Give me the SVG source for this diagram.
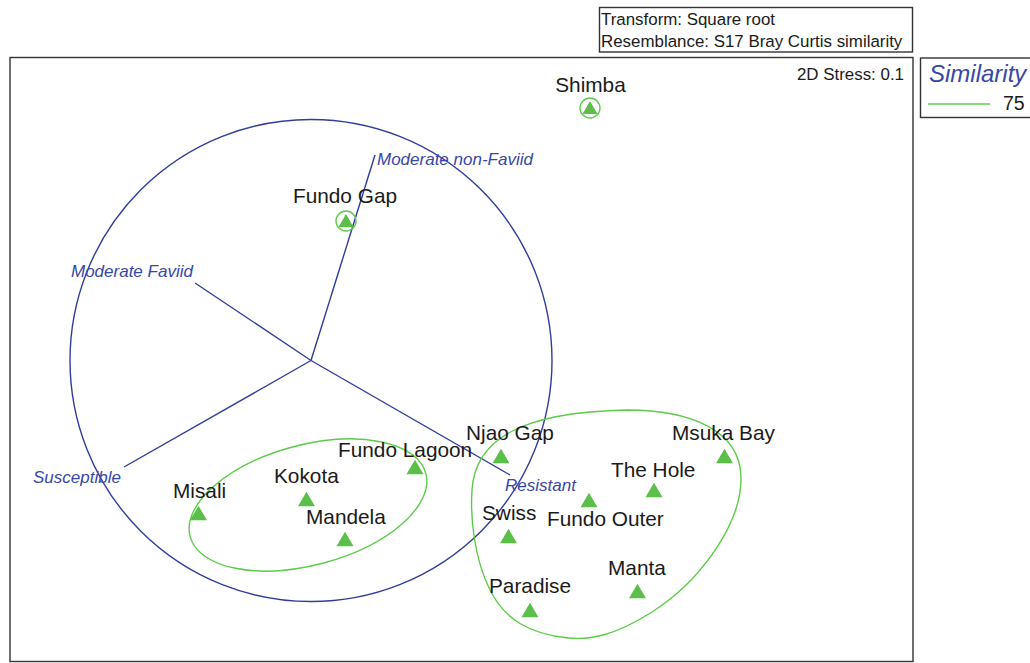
<svg xmlns="http://www.w3.org/2000/svg" xmlns:xlink="http://www.w3.org/1999/xlink" width="1030" height="663" viewBox="0 0 1030 663">
<style>
.frame{fill:none;stroke:#333;stroke-width:1.4}
.lbl{font-family:"Liberation Sans",Arial,sans-serif;font-size:20.8px;fill:#1a1a1a}
.info{font-family:"Liberation Sans",Arial,sans-serif;font-size:16.9px;fill:#1a1a1a}
.vec{stroke:#2f3d9c;stroke-width:1.4;fill:none}
.vlbl{font-family:"Liberation Sans",Arial,sans-serif;font-size:17px;font-style:italic;fill:#3747a8}
.clus{fill:none;stroke:#5ccc48;stroke-width:1.4}
.tri{fill:#5cbf4a}
</style>
<defs>
<path id="tri" d="M0,-7.2 L8.5,7.2 L-8.5,7.2 Z"/>
<path id="tris" d="M0,-7 L7.5,6 L-7.5,6 Z"/>
</defs>
<rect class="frame" x="10" y="57.5" width="903" height="604"/>
<g id="header">
<rect class="frame" x="599.5" y="7.5" width="313" height="44.5"/>
<text class="info" x="601" y="25">Transform: Square root</text>
<text class="info" x="601" y="47">Resemblance: S17 Bray Curtis similarity</text>
</g>
<text class="info" x="904" y="80" text-anchor="end">2D Stress: 0.1</text>
<g id="legend">
<rect class="frame" x="920.5" y="58" width="120" height="59.5"/>
<text x="929" y="82" font-family="Liberation Sans, Arial, sans-serif" font-size="24" font-style="italic" fill="#3747a8">Similarity</text>
<line class="clus" x1="928" y1="104" x2="990" y2="104"/>
<text x="1003" y="110" font-family="Liberation Sans, Arial, sans-serif" font-size="19.5" fill="#1a1a1a">75</text>
</g>
<g id="connectors">
<circle class="vec" cx="311" cy="360.5" r="241"/>
<line class="vec" x1="311" y1="360.5" x2="375" y2="155"/>
<line class="vec" x1="311" y1="360.5" x2="195" y2="283"/>
<line class="vec" x1="311" y1="360.5" x2="124" y2="467"/>
<line class="vec" x1="311" y1="360.5" x2="510" y2="475"/>
<ellipse class="clus" cx="308" cy="505" rx="122" ry="60" transform="rotate(-15 308 505)"/>
<path class="clus" d="M627 410 C690 410 740 430 741 477 C742 522 702 580 652 612 C614 636 590 640 568 638 C530 634 505 620 490 590 C475 560 470 520 472 490 C475 440 520 412 627 410 Z"/>
</g>
<g id="vectors-labels">
<text class="vlbl" x="377" y="165">Moderate non-Faviid</text>
<text class="vlbl" x="71" y="277">Moderate Faviid</text>
<text class="vlbl" x="33" y="483">Susceptible</text>
<text class="vlbl" x="505" y="491">Resistant</text>
</g>
<g id="shimba"><circle class="clus" cx="590" cy="108" r="10"/><use href="#tris" xlink:href="#tris" x="590" y="108" class="tri"/><text class="lbl" x="590.5" y="92" text-anchor="middle">Shimba</text></g>
<g id="fundo-gap"><circle class="clus" cx="346" cy="221" r="10"/><use href="#tris" xlink:href="#tris" x="346" y="221" class="tri"/><text class="lbl" x="345" y="203" text-anchor="middle">Fundo Gap</text></g>
<g id="misali"><use href="#tri" xlink:href="#tri" x="198.5" y="513" class="tri"/><text class="lbl" x="173" y="498">Misali</text></g>
<g id="kokota"><use href="#tri" xlink:href="#tri" x="306.5" y="499" class="tri"/><text class="lbl" x="274" y="483">Kokota</text></g>
<g id="mandela"><use href="#tri" xlink:href="#tri" x="345" y="539" class="tri"/><text class="lbl" x="306" y="524">Mandela</text></g>
<g id="fundo-lagoon"><use href="#tri" xlink:href="#tri" x="415" y="467" class="tri"/><text class="lbl" x="338" y="457">Fundo Lagoon</text></g>
<g id="njao-gap"><use href="#tri" xlink:href="#tri" x="501" y="456" class="tri"/><text class="lbl" x="466" y="440">Njao Gap</text></g>
<g id="msuka-bay"><use href="#tri" xlink:href="#tri" x="724.5" y="456" class="tri"/><text class="lbl" x="672" y="440">Msuka Bay</text></g>
<g id="the-hole"><use href="#tri" xlink:href="#tri" x="654" y="490" class="tri"/><text class="lbl" x="611" y="477">The Hole</text></g>
<g id="fundo-outer"><use href="#tri" xlink:href="#tri" x="589" y="500" class="tri"/><text class="lbl" x="547" y="526">Fundo Outer</text></g>
<g id="swiss"><use href="#tri" xlink:href="#tri" x="508.5" y="536" class="tri"/><text class="lbl" x="482" y="520">Swiss</text></g>
<g id="manta"><use href="#tri" xlink:href="#tri" x="637.5" y="591" class="tri"/><text class="lbl" x="608" y="575">Manta</text></g>
<g id="paradise"><use href="#tri" xlink:href="#tri" x="530" y="610" class="tri"/><text class="lbl" x="489" y="593">Paradise</text></g>
</svg>
